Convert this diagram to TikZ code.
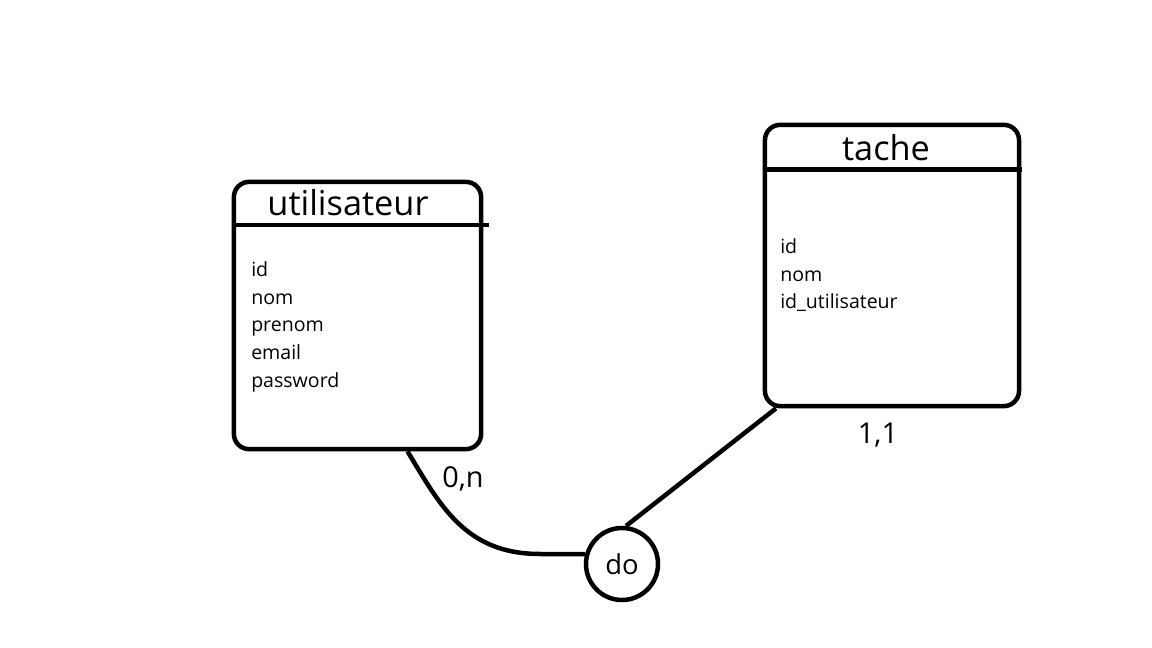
\documentclass[tikz,border=0pt]{standalone}
\usepackage{fontspec}
\setmainfont{Open Sans}
\begin{document}
\begin{tikzpicture}[x=0.025cm,y=-0.025cm,line width=3.2pt,
    entity/.style={draw,rounded corners=0.38cm,inner sep=0},
    relation/.style={draw,circle,minimum size=1.8cm,inner sep=0,font=\fontsize{19.5}{24}\selectfont},
    title/.style={anchor=base,inner sep=0,font=\fontsize{24.4}{29}\selectfont},
    attr/.style={anchor=north west,align=left,inner sep=0,font=\fontsize{13.9}{19.85}\selectfont},
    card/.style={inner sep=0,font=\fontsize{20.5}{24}\selectfont}]
        \useasboundingbox (0,0) rectangle (1152,648);
        % entities
        \node [entity,minimum width=6.18cm,minimum height=6.68cm] (ut) at (357.5,315.5) {};
        \node [entity,minimum width=6.35cm,minimum height=7.03cm] (ta) at (892,265.5) {};
        \node [title] (utname) at (348,216) {utilisateur};
        \node [title] (taname) at (886,161) {tache};
        \draw ([yshift=-1.13cm]ut.north west) -- ++(257,0);
        \draw ([yshift=-1.17cm]ta.north west) -- ++(259,0);
        \node [attr] (utattr) at (249,259) {id\\nom\\prenom\\email\\password};
        \node [attr] (taattr) at (778,236) {id\\nom\\id\_utilisateur};
        % relation
        \node [relation] (do) at (622,564) {do};
        \draw ([xshift=1.25cm]ut.south) .. controls (440,505) and (465,554) .. (540,554) -- (do.165);
        \draw (do.84) -- ([xshift=0.33cm]ta.south west);
        \node [card] (c1) at (463,479) {0,n};
        \node [card] (c2) at (878,435) {1,1};
    \end{tikzpicture}
\end{document}
